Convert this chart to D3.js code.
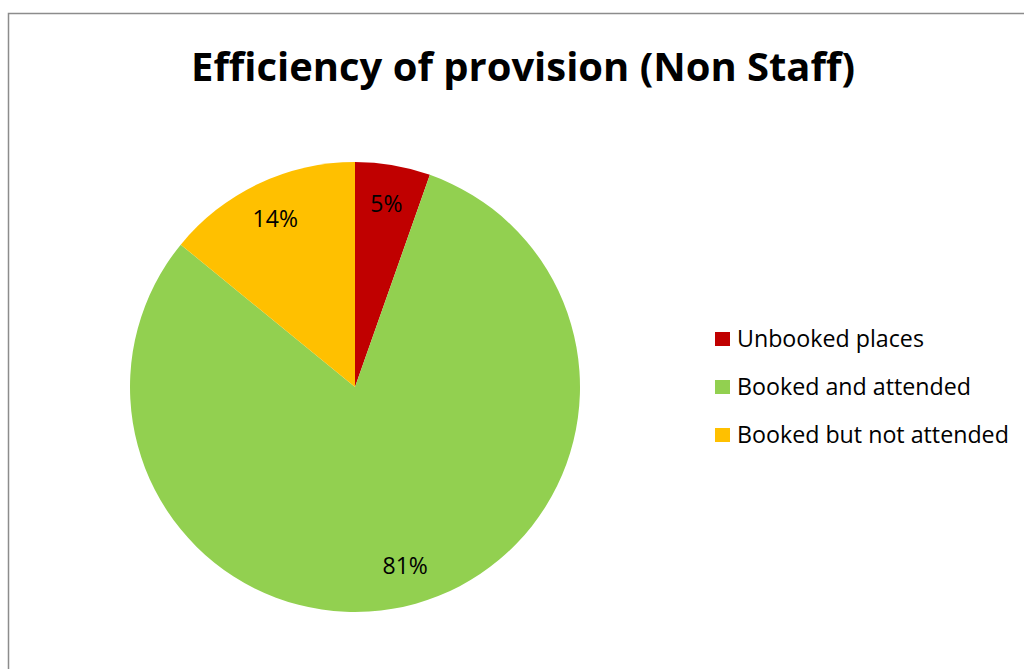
<!DOCTYPE html>
<html>
<head>
<meta charset="utf-8">
<script src="https://cdn.jsdelivr.net/npm/d3@7"></script>
<style>
  html, body { margin: 0; padding: 0; background: #fff; }
  svg { display: block; }
  text { font-variant-ligatures: none; }
</style>
</head>
<body>
<svg id="chart" width="1024" height="669"></svg>
<script>
const categories = ["Unbooked places", "Booked and attended", "Booked but not attended"];
const values = [5.4, 80.5, 14.1];
const labels = ["5%", "81%", "14%"];
const colors = ["#C00000", "#92D050", "#FFC000"];
const title = "Efficiency of provision (Non Staff)";

const svg = d3.select("#chart");
const font = "'Open Sans', Lato, 'Liberation Sans', sans-serif";

// chart border
svg.append("rect")
  .attr("x", 8.5).attr("y", 13.5)
  .attr("width", 1030).attr("height", 670)
  .attr("fill", "#fff").attr("stroke", "#8c8c8c").attr("stroke-width", 1.5);

// title fitted to reference width
const t = svg.append("text")
  .attr("x", 523).attr("y", 81)
  .attr("text-anchor", "middle")
  .attr("font-family", font).attr("font-weight", "bold")
  .attr("font-size", 40).attr("fill", "#000")
  .text(title);
const tw = t.node().getComputedTextLength();
t.attr("font-size", 40 * 664 / tw);

const cx = 355, cy = 387, R = 225;
const pie = d3.pie().sort(null).value(d => d)(values);
const arc = d3.arc().innerRadius(0).outerRadius(R);
const labelArc = d3.arc().innerRadius(186).outerRadius(186);

const g = svg.append("g").attr("transform", `translate(${cx},${cy})`);
g.selectAll("path").data(pie).join("path")
  .attr("d", arc)
  .attr("fill", (d, i) => colors[i]);

g.selectAll("text").data(pie).join("text")
  .attr("transform", d => `translate(${labelArc.centroid(d)})`)
  .attr("text-anchor", "middle")
  .attr("dy", "0.35em")
  .attr("font-family", font)
  .attr("font-size", 23)
  .attr("fill", "#000")
  .text((d, i) => labels[i]);

// legend
const legend = svg.append("g");
const rowY = [339, 387, 435];
const texts = [];
categories.forEach((c, i) => {
  legend.append("rect")
    .attr("x", 715).attr("y", rowY[i] - 7)
    .attr("width", 15).attr("height", 14)
    .attr("fill", colors[i]);
  texts.push(legend.append("text")
    .attr("x", 737).attr("y", rowY[i])
    .attr("dy", "0.35em")
    .attr("font-family", font)
    .attr("font-size", 20)
    .attr("fill", "#000")
    .text(c));
});
const lw = texts[2].node().getComputedTextLength();
texts.forEach(tx => tx.attr("font-size", 20 * 272 / lw));
</script>
</body>
</html>
